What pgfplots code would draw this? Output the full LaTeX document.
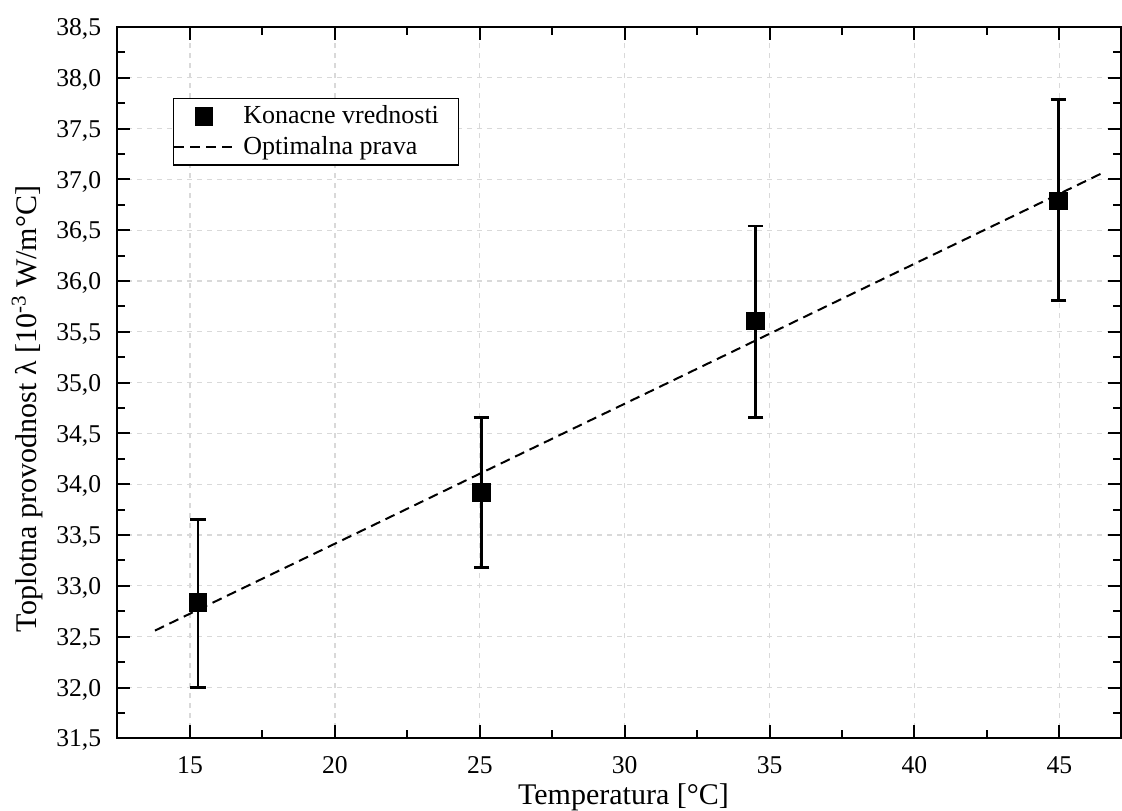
\documentclass[border=0pt]{standalone}
\usepackage{fontspec}
\setmainfont{Liberation Serif}
\usepackage{pgfplots}
\usepackage{pgfplotstable}
\pgfplotsset{compat=1.18}
\pgfplotsset{
  markleg/.style={legend image code/.code={\draw[mark repeat=2, mark phase=2, ##1] plot coordinates {(0pt,0pt) (14.75pt,0pt) (29.5pt,0pt)};}},
  lineleg/.style={legend image code/.code={\draw[##1] (0pt,0pt) -- (29.5pt,0pt);}},
}
\pgfplotstableread{
x      y       ep     em
15.27  32.838  0.817  0.838
25.06  33.920  0.735  0.740
34.52  35.606  0.934  0.951
44.97  36.790  0.995  0.980
}\measured
\pgfplotstableread{
x      y
13.79  32.560
46.46  37.060
}\fitline
\begin{document}
\begin{tikzpicture}
\path[use as bounding box] (-58.5pt,-35.85pt) rectangle (502.5pt,369.15pt);
\begin{axis}[
  scale only axis,
  width=501.75pt, height=355.65pt,
  xmin=12.48, xmax=47.11, ymin=31.5, ymax=38.5,
  xtick={15,20,25,30,35,40,45},
  xticklabels={15,20,25,30,35,40,45},
  ytick={31.5,32,32.5,33,33.5,34,34.5,35,35.5,36,36.5,37,37.5,38,38.5},
  yticklabels={{31,5},{32,0},{32,5},{33,0},{33,5},{34,0},{34,5},{35,0},{35,5},{36,0},{36,5},{37,0},{37,5},{38,0},{38,5}},
  minor x tick num=1, minor y tick num=1,
  tick align=inside,
  major tick length=6.5pt, minor tick length=4pt,
  axis line style={line width=1pt},
  every tick/.style={black, line width=1pt},
  grid=major,
  major grid style={gray!30, dash pattern=on 2.5pt off 2.5pt, line width=0.6pt},
  ticklabel style={font=\rmfamily\fontsize{12.8}{15}\selectfont},
  yticklabel style={anchor=base east, inner sep=0pt, xshift=-7.7pt, yshift=-4.33pt},
  xticklabel style={anchor=base, inner sep=0pt, yshift=-17.35pt},
  xlabel={Temperatura [°C]},
  ylabel={Toplotna provodnost λ [10\textsuperscript{-3} W/m°C]},
  label style={font=\rmfamily\fontsize{15}{18}\selectfont},
  xlabel style={at={(axis description cs:0.5047,-0.0924)}, anchor=base},
  ylabel style={at={(axis description cs:-0.0807,0.463)}, anchor=base},
  legend cell align=left,
  legend style={at={(axis description cs:0.0555,0.8998)}, anchor=north west,
     draw=black, line width=0.6pt, fill=white,
     font=\rmfamily\fontsize{13}{15.6}\selectfont,
     inner xsep=0pt, inner ysep=3.5pt, row sep=5pt, column sep=4.5pt,
     nodes={inner sep=0pt}},
]
\addplot[only marks, mark=square*, mark size=4.2pt,
   mark options={black, fill=black, line width=0.8pt},
   markleg,
   error bars/.cd, y dir=both, y explicit,
   error bar style={line width=1.3pt, black},
   error mark options={rotate=90, mark size=3.9pt, line width=1.3pt, black}]
   table[x=x, y=y, y error plus=ep, y error minus=em] {\measured};
\addlegendentry{Konacne vrednosti\hspace*{9.7pt}}
\addplot[black, line width=1pt, dash pattern=on 5pt off 3pt, lineleg]
   table[x=x, y=y] {\fitline};
\addlegendentry{Optimalna prava\hspace*{9.7pt}}
\end{axis}
\end{tikzpicture}
\end{document}
